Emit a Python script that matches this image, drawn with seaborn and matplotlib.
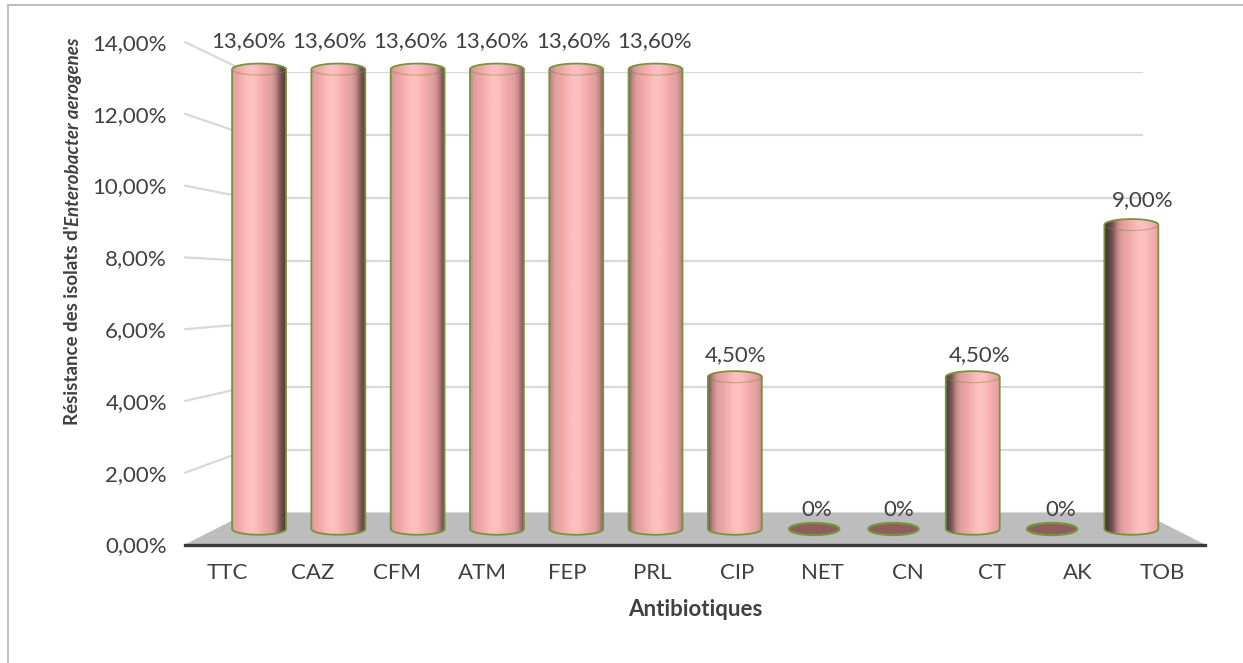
import numpy as np
import pandas as pd
import matplotlib
matplotlib.use("Agg")
import matplotlib.pyplot as plt
import seaborn as sns
from matplotlib.patches import Ellipse, Polygon, PathPatch
from matplotlib.path import Path
from matplotlib.lines import Line2D
from matplotlib.colors import LinearSegmentedColormap
from matplotlib.transforms import blended_transform_factory

# ---- data -------------------------------------------------------------
antibiotics = ["TTC", "CAZ", "CFM", "ATM", "FEP", "PRL",
               "CIP", "NET", "CN", "CT", "AK", "TOB"]
resistance = [13.6, 13.6, 13.6, 13.6, 13.6, 13.6,
              4.5, 0.0, 0.0, 4.5, 0.0, 9.0]
y_ticks = [0, 2, 4, 6, 8, 10, 12, 14]
y_tick_labels = ["0,00%", "2,00%", "4,00%", "6,00%",
                 "8,00%", "10,00%", "12,00%", "14,00%"]

df = pd.DataFrame({"antibiotique": antibiotics, "resistance": resistance})


def pct_label(v):
    if v == 0:
        return "0%"
    return f"{v:.2f}%".replace(".", ",")


# ---- style ------------------------------------------------------------
sns.set_theme(style="white")
FONT = ["Lato", "DejaVu Sans"]
plt.rcParams["font.family"] = FONT
TXT = "#404040"
GRID = "#d9d9d9"
EDGE = "#77933c"
FS = 16

W, H = 1243, 663
fig = plt.figure(figsize=(W / 100, H / 100), dpi=100)
fig.patch.set_facecolor("white")


def px_axes(x0, x1, y_zero, y_top, z):
    """Axes whose x span is [x0, x1] px and whose y=0..14 spans y_zero..y_top px."""
    ax = fig.add_axes([x0 / W, 1 - y_zero / H, (x1 - x0) / W, (y_zero - y_top) / H])
    ax.set_zorder(z)
    ax.patch.set_alpha(0)
    ax.set_xlim(-0.5, len(antibiotics) - 0.5)
    ax.set_ylim(0, 14)
    for s in ax.spines.values():
        s.set_visible(False)
    return ax


# three depth planes of the oblique 3-D box
back_ax = px_axes(247, 1143, 513, 72, 1)                  # back wall
bar_ax = px_axes(219.4, 1171, 529, 529 - 33.8 * 14, 2)    # plane of the cylinders
front_ax = px_axes(185, 1205, 544.5, 42, 3)               # front edge with the scales

# ---- back wall gridlines ---------------------------------------------
back_ax.set_yticks(y_ticks)
back_ax.set_yticklabels([])
back_ax.set_xticks([])
back_ax.tick_params(length=0)
back_ax.set_axisbelow(True)
back_ax.yaxis.grid(True, color=GRID, lw=1.6)
back_ax.set_ylim(0, 14)

to_fig = fig.transFigure.inverted()
front_left = blended_transform_factory(front_ax.transAxes, front_ax.transData)
back_left = blended_transform_factory(back_ax.transAxes, back_ax.transData)

# side wall lines joining the front scale with the back wall
for v in y_ticks[1:]:
    p0 = to_fig.transform(front_left.transform((0, v)))
    p1 = to_fig.transform(back_left.transform((0, v)))
    back_ax.add_line(Line2D([p0[0], p1[0]], [p0[1], p1[1]], transform=fig.transFigure,
                            color=GRID, lw=1.6, clip_on=False, zorder=0.6))

# floor
corners = [front_left.transform((0, 0)), back_left.transform((0, 0)),
           back_left.transform((1, 0)), front_left.transform((1, 0))]
corners = to_fig.transform(np.array(corners))
back_ax.add_patch(Polygon(corners, closed=True, transform=fig.transFigure,
                          facecolor="#bdbdbd", edgecolor="none", clip_on=False, zorder=1))

# ---- cylinders --------------------------------------------------------
sns.barplot(data=df, x="antibiotique", y="resistance", ax=bar_ax,
            width=0.68, color="#f0a8a8", saturation=1, errorbar=None)

# colour as a function of surface brightness b in [B_MIN, 1]
B_MIN = -0.45
stops = [(-0.45, "#432c2c"), (-0.20, "#563a3a"), (0.05, "#7a5555"), (0.30, "#c28888"),
         (0.50, "#e09e9e"), (0.75, "#eea6a6"), (0.92, "#f9b3b3"), (1.00, "#ffc0c0")]
shade = LinearSegmentedColormap.from_list(
    "cyl", [((b - B_MIN) / (1 - B_MIN), c) for b, c in stops])

eh = 0.17  # half height of the cylinder ellipses, in % units
n_bars = len(antibiotics)
bars = list(bar_ax.patches)
for i, (patch, v) in enumerate(zip(bars, resistance)):
    patch.set_visible(False)
    x0 = patch.get_x()
    w = patch.get_width()
    xc = x0 + w / 2
    a = w / 2
    if v == 0:
        bar_ax.add_patch(Ellipse((xc, 0), w * 0.93, 2.1 * eh, facecolor="#8e5d5d",
                                 edgecolor=EDGE, lw=1.6, zorder=3, clip_on=False))
    else:
        t_top = np.linspace(np.pi, 0, 60)
        t_bot = np.linspace(0, -np.pi, 60)
        verts = ([(x0, 0)]
                 + list(zip(xc + a * np.cos(t_top), v + eh * np.sin(t_top)))
                 + [(x0 + w, 0)]
                 + list(zip(xc + a * np.cos(t_bot), eh * np.sin(t_bot)))
                 + [(x0, 0)])
        codes = [Path.MOVETO] + [Path.LINETO] * (len(verts) - 2) + [Path.CLOSEPOLY]
        body = PathPatch(Path(verts, codes), facecolor="none", edgecolor=EDGE,
                         lw=1.3, zorder=4, clip_on=False)
        bar_ax.add_patch(body)

        # lighting: highlight drifts from left to right across the row
        p = 0.36 + 0.34 * i / (n_bars - 1)
        u = np.linspace(0, 1, 400)
        b = np.cos((u - p) * 0.9 * np.pi)
        img = np.clip((b - B_MIN) / (1 - B_MIN), 0, 1)
        im = bar_ax.imshow(np.vstack([img, img]), cmap=shade, vmin=0, vmax=1,
                           extent=(x0, x0 + w, -eh, v + eh), aspect="auto",
                           interpolation="bilinear", zorder=3)
        im.set_clip_box(fig.bbox)
        im.set_clip_path(body)

        # lower rim of the top face
        t_rim = np.linspace(np.pi, 2 * np.pi, 40)
        bar_ax.plot(xc + a * np.cos(t_rim), v + eh * np.sin(t_rim),
                    color=EDGE, lw=0.9, alpha=0.45, zorder=4)

    # value label, nudged with the perspective of the box
    dx = (-11 + 22 * i / (n_bars - 1)) * 0.72
    dy = (13 + 0.66 * v) * 0.72
    bar_ax.annotate(pct_label(v), xy=(xc, v), xytext=(dx, dy), textcoords="offset points",
                    ha="center", va="baseline", fontsize=FS, color=TXT, zorder=6)

bar_ax.set_xlim(-0.5, n_bars - 0.5)
bar_ax.set_ylim(0, 14)
bar_ax.set_xticks([])
bar_ax.set_yticks([])
bar_ax.set_xlabel("")
bar_ax.set_ylabel("")

# ---- front scales -----------------------------------------------------
front_ax.spines["bottom"].set_visible(True)
front_ax.spines["bottom"].set_color("#3a3a3a")
front_ax.spines["bottom"].set_linewidth(2.4)
front_ax.set_xticks(range(n_bars))
front_ax.set_xticklabels(antibiotics)
front_ax.set_yticks(y_ticks)
front_ax.set_yticklabels(y_tick_labels)
front_ax.tick_params(axis="both", length=0, labelsize=FS, labelcolor=TXT)
front_ax.tick_params(axis="y", pad=13)
front_ax.tick_params(axis="x", pad=13)
front_ax.set_xlabel("Antibiotiques", fontsize=FS, fontweight="bold", color=TXT, labelpad=12)

# y title: plain bold part followed by the bold italic species name,
# sized to a 390 px run centred at y=231 px
fig.canvas.draw()
renderer = fig.canvas.get_renderer()
YT_X = 73 / W
t1 = fig.text(YT_X, 0, "Résistance des isolats d'", rotation=90, ha="center",
              va="bottom", fontsize=15, fontweight="bold", color=TXT)
t2 = fig.text(YT_X, 0, "Enterobacter aerogenes", rotation=90, ha="center",
              va="bottom", fontsize=15, fontweight="bold", fontstyle="italic", color=TXT)
total = t1.get_window_extent(renderer).height + t2.get_window_extent(renderer).height
fs_title = 15 * 390 / total
t1.set_fontsize(fs_title)
t2.set_fontsize(fs_title)
h1 = t1.get_window_extent(renderer).height
h2 = t2.get_window_extent(renderer).height
bottom_px = (H - 231) - (h1 + h2) / 2
t1.set_position((YT_X, bottom_px / H))
t2.set_position((YT_X, (bottom_px + h1 - 1) / H))

# chart frame
fig.add_artist(Line2D([8 / W, 1], [1 - 5 / H, 1 - 5 / H], transform=fig.transFigure,
                      color="#bfbfbf", lw=1.5))
fig.add_artist(Line2D([8 / W, 8 / W], [0, 1 - 5 / H], transform=fig.transFigure,
                      color="#bfbfbf", lw=1.5))

fig.savefig("out.png", dpi=100, facecolor="white")
